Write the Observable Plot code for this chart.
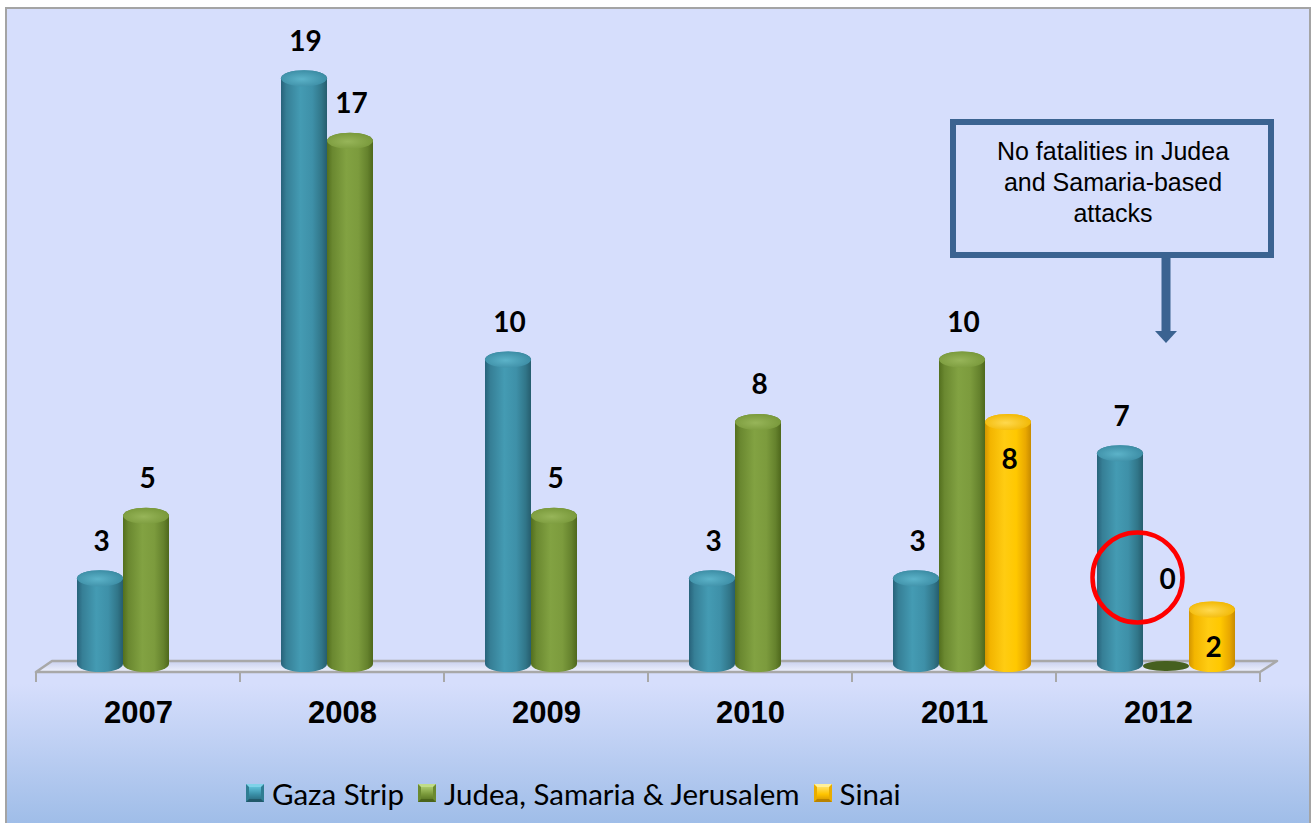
<!DOCTYPE html>
<html><head><meta charset="utf-8">
<script src="https://cdn.jsdelivr.net/npm/d3@7"></script>
<script src="https://cdn.jsdelivr.net/npm/@observablehq/plot@0.6"></script>
<style>
html,body{margin:0;padding:0;background:#fff;}
#frame{position:absolute;left:5px;top:7px;width:1302px;height:830px;border:2px solid #a4a4a4;
 background:linear-gradient(to bottom,#d6defc 0px,#d6defc 675px,#9fbde8 815px);overflow:hidden;}
#chart{position:absolute;left:0;top:0;}
#legend{position:absolute;left:239px;top:766px;height:36px;display:flex;align-items:center;font-family:Lato,sans-serif;font-size:29.5px;color:#000;white-space:nowrap;}
.item{display:flex;align-items:center;margin-right:14px;}
.sw{width:18px;height:18px;margin-right:8px;box-sizing:border-box;border-style:solid;border-width:3px;}
</style></head>
<body>
<div id="frame"><div id="chart"></div><div id="legend"></div></div>
<script>
// ---- data ----
const years = ["2007","2008","2009","2010","2011","2012"];
const seriesNames = ["Gaza Strip","Judea, Samaria & Jerusalem","Sinai"];
const gazaStrip = [3,19,10,3,3,7];
const judeaSamariaJerusalem = [5,17,5,8,10,0];
const sinai = [null,null,null,null,8,2];
const calloutLines = ["No fatalities in Judea","and Samaria-based","attacks"];

// ---- styles ----
const bodyStops = [
  ["#27627a","#367f96","#449bb3","#3e90a8","#317689","#265d6e"],
  ["#536f1e","#6a8830","#82a242","#7c9b3d","#65822d","#4e681c"],
  ["#d39500","#f3b500","#ffcc12","#ffc800","#e9a800","#c78b00"]
];
const capStops = [["#5cb3c9","#3a8aa2"],["#97b559","#779739"],["#ffd94e","#f1b600"]];

const allSeries = [gazaStrip, judeaSamariaJerusalem, sinai];
const rows = [];
years.forEach((yr, i) => allSeries.forEach((arr, j) => {
  if (arr[i] != null) rows.push({year: yr, series: seriesNames[j], value: arr[i], k: j});
}));
const barRows = rows.filter(d => d.value > 0);
const labelRows = rows.filter(d => d.k !== 2 && d.value > 0);
const insideRows = rows.filter(d => d.k === 2);
const zeroRows = rows.filter(d => d.value === 0);

const slotPad = (204 / 46 - 3) / 2;
const BAR_DX = 8;
const labelFont = {fontSize: 28, fontWeight: "bold", fontFamily: "Lato", fill: "#000"};

const plot = Plot.plot({
  width: 1302, height: 740,
  marginLeft: 29, marginRight: 49, marginTop: 61.25, marginBottom: 85,
  style: {background: "transparent", overflow: "visible"},
  fx: {domain: years, padding: 0, axis: null},
  x: {domain: seriesNames, paddingInner: 0, paddingOuter: slotPad, axis: null},
  y: {domain: [0, 19], axis: null},
  color: {type: "identity"},
  marks: [
    Plot.barY(barRows, {fx: "year", x: "series", y1: 0, y2: "value", dx: BAR_DX,
      fill: d => `url(#body${d.k})`, rx: 23, ry: 8, insetBottom: -8}),
    Plot.barY(barRows, {fx: "year", x: "series", y1: "value", y2: "value", dx: BAR_DX,
      fill: d => `url(#cap${d.k})`, rx: 23, ry: 8, insetBottom: -16}),
    // flat disc for a zero value, lying on the floor
    Plot.barY(zeroRows, {fx: "year", x: "series", y1: "value", y2: "value", dx: BAR_DX, dy: -3,
      fill: "#46601f", rx: 22, ry: 5, insetBottom: -10}),
    Plot.text(labelRows, {fx: "year", x: "series", y: "value", text: d => String(d.value),
      dx: BAR_DX + 1, dy: -29, ...labelFont}),
    Plot.text(insideRows, {fx: "year", x: "series", y: "value", text: d => String(d.value),
      dx: BAR_DX + 1, dy: 46, ...labelFont}),
    Plot.text(zeroRows, {fx: "year", x: "series", y: "value", text: d => String(d.value),
      dx: BAR_DX + 1, dy: -84, ...labelFont}),
    Plot.dot(zeroRows, {fx: "year", x: "series", y: "value", r: 45, dx: BAR_DX - 29, dy: -87,
      stroke: "#ff0000", strokeWidth: 4.5, fill: "none"}),
    Plot.text(years, {fx: d => d, text: d => d, frameAnchor: "bottom", dy: 58,
      fontSize: 31, fontWeight: "bold", fontFamily: "Liberation Sans", fill: "#000"})
  ]
});
document.getElementById("chart").appendChild(plot);

// ---- gradients, floor, callout ----
const svg = d3.select(plot);
const defs = svg.insert("defs", ":first-child");
bodyStops.forEach((stops, k) => {
  const g = defs.append("linearGradient").attr("id", "body" + k).attr("x1", 0).attr("x2", 1).attr("y1", 0).attr("y2", 0);
  const offs = [0, 0.12, 0.42, 0.68, 0.88, 1];
  stops.forEach((c, i) => g.append("stop").attr("offset", offs[i]).attr("stop-color", c));
});
capStops.forEach((stops, k) => {
  const g = defs.append("radialGradient").attr("id", "cap" + k).attr("cx", 0.45).attr("cy", 0.55).attr("r", 0.6);
  g.append("stop").attr("offset", 0).attr("stop-color", stops[0]);
  g.append("stop").attr("offset", 1).attr("stop-color", stops[1]);
});
const sh = defs.append("linearGradient").attr("id", "floorfill").attr("x1", 0).attr("x2", 0).attr("y1", 0).attr("y2", 1);
sh.append("stop").attr("offset", 0).attr("stop-color", "#c9d0ee");
sh.append("stop").attr("offset", 1).attr("stop-color", "#eef1fd");

const fxS = plot.scale("fx"), yS = plot.scale("y");
const x0 = fxS.range[0], x1 = fxS.range[1];
const step = (x1 - x0) / years.length;
const y0 = yS.range[0];
const floor = svg.insert("g", "g").attr("class", "floor");
floor.append("polygon")
  .attr("points", `${x0},${y0 + 8} ${x1},${y0 + 8} ${x1 + 17},${y0 - 3} ${x0 + 16},${y0 - 3}`)
  .attr("fill", "url(#floorfill)").attr("stroke", "#a8a8a8").attr("stroke-width", 2.5).attr("stroke-linejoin", "round");
for (let i = 0; i <= years.length; i++) {
  floor.append("line").attr("x1", x0 + i * step).attr("x2", x0 + i * step)
    .attr("y1", y0 + 8).attr("y2", y0 + 18).attr("stroke", "#a8a8a8").attr("stroke-width", 2);
}

const co = svg.append("g").attr("class", "callout");
co.append("rect").attr("x", 946).attr("y", 113).attr("width", 318).attr("height", 133)
  .attr("fill", "#d6defc").attr("stroke", "#3b6391").attr("stroke-width", 6);
calloutLines.forEach((t, i) => co.append("text").attr("x", 1106).attr("y", 151 + i * 31)
  .attr("text-anchor", "middle").attr("font-family", "Liberation Sans").attr("font-size", 25).attr("fill", "#000").text(t));
co.append("line").attr("x1", 1159).attr("x2", 1159).attr("y1", 249).attr("y2", 324)
  .attr("stroke", "#3b6391").attr("stroke-width", 9);
co.append("polygon").attr("points", "1148,322 1170,322 1159,334").attr("fill", "#3b6391");

// ---- legend ----
const swatchBg = [
  "linear-gradient(to bottom,#5fc0d8 0%,#3a90a8 60%,#2d7388 100%)",
  "linear-gradient(to bottom,#a9c86a 0%,#7a993a 60%,#5f7c28 100%)",
  "linear-gradient(to bottom,#ffe060 0%,#ffc400 60%,#e0a300 100%)"
];
const swatchBorder = [
  "#7fd2e8 #2f7d93 #21596a #2f7d93",
  "#c0dc88 #6b8a30 #4a641a #6b8a30",
  "#fff09a #e9ad00 #b98300 #e9ad00"
];
const legend = d3.select("#legend");
seriesNames.forEach((name, k) => {
  const it = legend.append("div").attr("class", "item");
  it.append("div").attr("class", "sw").style("background", swatchBg[k]).style("border-color", swatchBorder[k]);
  it.append("span").text(name);
});
</script>
</body></html>
